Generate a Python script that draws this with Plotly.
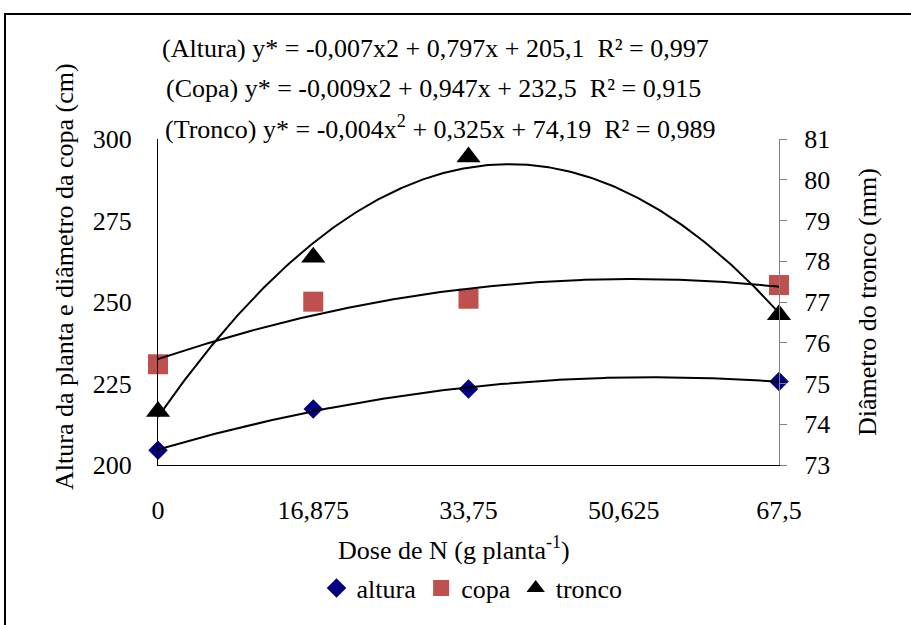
import numpy as np
import plotly.graph_objects as go

# ---- data ----
dose = [0, 16.875, 33.75, 67.5]
altura = [204.5, 217.2, 223.3, 225.6]
copa = [230.9, 250.1, 251.0, 255.2]
tronco = [74.31, 78.10, 80.56, 76.69]

x_tickvals = [0, 16.875, 33.75, 50.625, 67.5]
x_ticktext = ["0", "16,875", "33,75", "50,625", "67,5"]

eq_altura = "(Altura) y* = -0,007x2 + 0,797x + 205,1  R² = 0,997"
eq_copa = "(Copa) y* = -0,009x2 + 0,947x + 232,5  R² = 0,915"
eq_tronco = "(Tronco) y* = -0,004x<sup>2</sup> + 0,325x + 74,19  R² = 0,989"

FONT = "Liberation Serif, Times New Roman, serif"
FS = 26

xs = np.linspace(0, 67.5, 300)


def trend(vals):
    c = np.polyfit(dose, vals, 2)
    return np.polyval(c, xs)


fig = go.Figure()

fig.add_trace(go.Scatter(x=dose, y=altura, mode="markers", name="altura",
                         marker=dict(symbol="diamond", size=15, color="#000080"),
                         cliponaxis=False))
fig.add_trace(go.Scatter(x=dose, y=copa, mode="markers", name="copa",
                         marker=dict(symbol="square", size=20, color="#C0504D"),
                         cliponaxis=False))
fig.add_trace(go.Scatter(x=xs, y=trend(altura), mode="lines", showlegend=False,
                         line=dict(color="black", width=2), hoverinfo="skip"))
fig.add_trace(go.Scatter(x=xs, y=trend(copa), mode="lines", showlegend=False,
                         line=dict(color="black", width=2), hoverinfo="skip"))
fig.add_trace(go.Scatter(x=dose, y=tronco, mode="markers", name="tronco", yaxis="y2",
                         marker=dict(symbol="triangle-up", size=21, color="black"),
                         cliponaxis=False))
fig.add_trace(go.Scatter(x=xs, y=trend(tronco), mode="lines", showlegend=False, yaxis="y2",
                         line=dict(color="black", width=2), hoverinfo="skip"))

L, R, T, B = 158, 911 - 779, 139, 625 - 465
PW, PH = 911 - L - R, 625 - T - B


def px(x):
    return (x - L) / PW


def py(y):
    return (465 - y) / PH


fig.update_layout(
    width=911, height=625,
    margin=dict(l=L, r=R, t=T, b=B, pad=0),
    paper_bgcolor="white", plot_bgcolor="white",
    font=dict(family=FONT, size=FS, color="black"),
    showlegend=True,
    legend=dict(orientation="h", x=px(472), y=py(588), xanchor="center", yanchor="middle",
                font=dict(size=FS), itemwidth=30, tracegroupgap=0,
                bgcolor="rgba(0,0,0,0)"),
    xaxis=dict(range=[0, 67.5], tickvals=x_tickvals, ticktext=x_ticktext,
               showgrid=False, zeroline=False, showline=True, linecolor="black",
               linewidth=1, ticks="", tickfont=dict(size=FS), ticklabelstandoff=22),
    yaxis=dict(range=[200, 300], dtick=25, showgrid=False, zeroline=False,
               showline=True, linecolor="black", linewidth=1, ticks="",
               tickfont=dict(size=FS), ticklabelstandoff=20),
    yaxis2=dict(range=[73, 81], dtick=1, overlaying="y", side="right", showgrid=False,
                zeroline=False, showline=True, linecolor="#808080", linewidth=1,
                ticks="outside", ticklen=7, tickcolor="#808080",
                tickfont=dict(size=FS), ticklabelstandoff=12),
)

ann = [
    dict(text=eq_altura, x=px(435), y=py(48)),
    dict(text=eq_copa, x=px(433), y=py(88)),
    dict(text=eq_tronco, x=px(440), y=py(128)),
    dict(text="Dose de N (g planta<sup>-1</sup>)", x=px(454), y=py(548)),
    dict(text="Altura da planta e diâmetro da copa (cm)", x=px(64), y=py(277), textangle=-90),
    dict(text="Diâmetro do tronco (mm)", x=px(867), y=py(302), textangle=-90),
]
for a in ann:
    fig.add_annotation(xref="paper", yref="paper", showarrow=False,
                       xanchor="center", yanchor="middle",
                       font=dict(family=FONT, size=FS, color="black"), **a)

# outer chart frame
fig.add_shape(type="rect", xref="paper", yref="paper",
              x0=px(5), x1=px(920), y0=py(640), y1=py(14),
              line=dict(color="black", width=2), fillcolor="rgba(0,0,0,0)", layer="above")

fig.write_html("out.html", config={"displayModeBar": False},
               post_script="document.body.style.margin='0';")
